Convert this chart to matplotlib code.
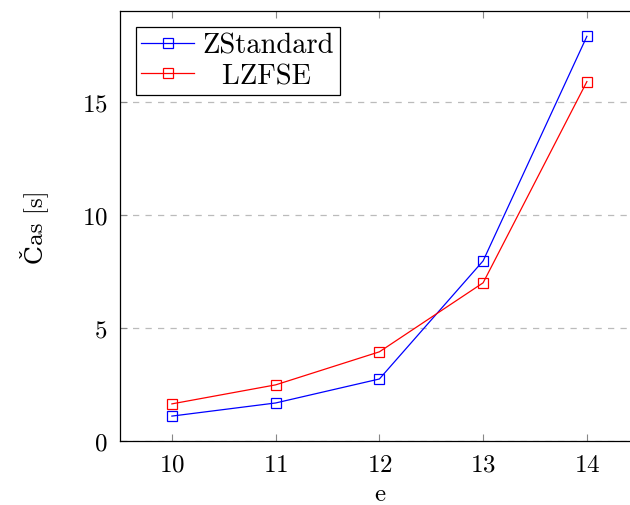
import matplotlib
matplotlib.use('Agg')
import matplotlib.pyplot as plt

plt.rcParams['font.family'] = ['cmr10', 'DejaVu Serif']
plt.rcParams['mathtext.fontset'] = 'cm'
plt.rcParams['axes.formatter.use_mathtext'] = True

e_vals = [10, 11, 12, 13, 14]
zstd = [1.1, 1.68, 2.74, 7.96, 17.88]
lzfse = [1.64, 2.48, 3.94, 6.99, 15.88]

fig = plt.figure(figsize=(6.3, 5.06), dpi=100)
ax = fig.add_axes([0.1905, 0.1265, 0.8234, 0.8498])

ax.plot(e_vals, zstd, color='blue', marker='s', markersize=7.5, markerfacecolor='none',
        markeredgewidth=0.9, linewidth=0.9, label='ZStandard')
ax.plot(e_vals, lzfse, color='red', marker='s', markersize=7.5, markerfacecolor='none',
        markeredgewidth=0.9, linewidth=0.9, label='  LZFSE')

ax.set_xlim(9.5, 14.5)
ax.set_ylim(0, 19)
ax.set_xticks(e_vals)
ax.set_yticks([0, 5, 10, 15])
ax.yaxis.grid(True, linestyle=(0, (5, 5)), color='#bbbbbb', linewidth=0.9)
ax.set_axisbelow(True)
ax.tick_params(direction='in', length=5, color='#888888', labelsize=18, top=True, pad=9)
for s in ax.spines.values():
    s.set_linewidth(0.9)

ax.set_xlabel('e', fontsize=18, labelpad=5)
ax.set_ylabel('Čas [s]', fontsize=18, labelpad=24)

leg = ax.legend(loc='upper left', fontsize=20.5, fancybox=False, edgecolor='black',
                framealpha=1, borderaxespad=0.55, handlelength=1.85, borderpad=0.2,
                labelspacing=0.15, handletextpad=0.3)
leg.get_frame().set_linewidth(0.9)

fig.savefig('out.png', dpi=100)
